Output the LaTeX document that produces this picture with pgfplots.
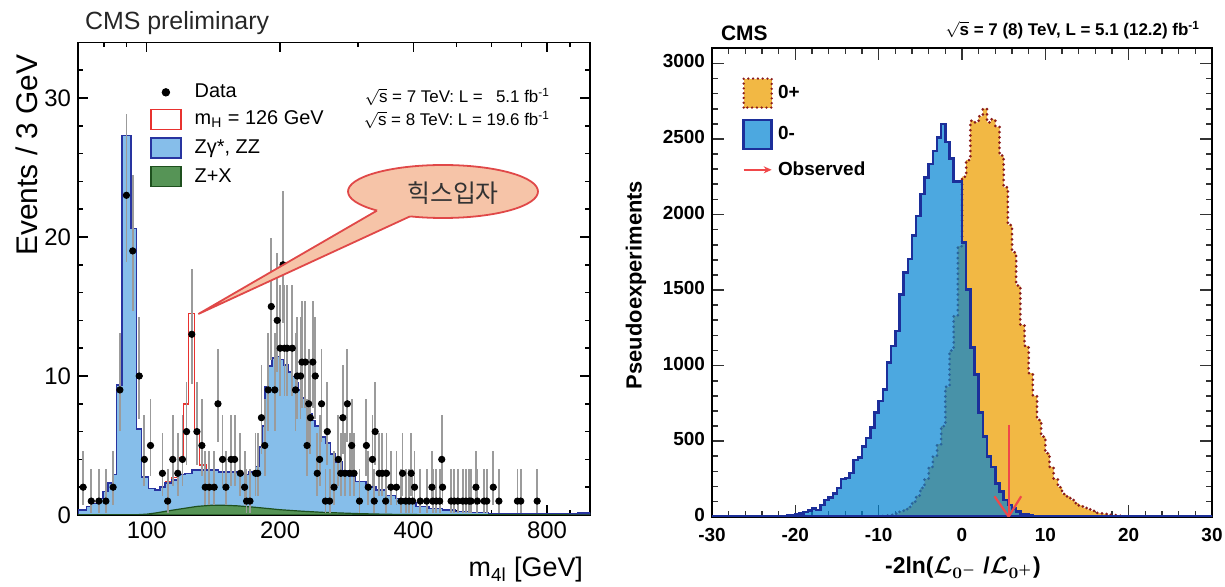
\documentclass[border=0pt]{standalone}
\usepackage{amsmath}
\usepackage{fontspec}
\usepackage{pgfplots}
\pgfplotsset{compat=1.18}
\usetikzlibrary{arrows.meta}
\setmainfont{Liberation Sans}
\newfontfamily\kr{Noto Sans CJK KR}

\definecolor{zzfill}{RGB}{134,190,234}
\definecolor{zzline}{RGB}{40,52,160}
\definecolor{zxfill}{RGB}{86,148,86}
\definecolor{zxline}{RGB}{30,80,30}
\definecolor{sigred}{RGB}{232,50,47}
\definecolor{errgrey}{RGB}{155,155,155}
\definecolor{bubF}{RGB}{246,196,168}
\definecolor{bubD}{RGB}{224,72,72}
\definecolor{oraM}{RGB}{242,184,68}
\definecolor{dredM}{RGB}{138,28,28}
\definecolor{blueM}{RGB}{0,131,211}
\definecolor{blueL}{RGB}{76,168,224}
\definecolor{navyM}{RGB}{28,47,154}
\definecolor{redA}{RGB}{240,72,74}

\begin{document}
\begin{tikzpicture}
\useasboundingbox (0,0) rectangle (612.5bp,293.5bp);

% ---------------- left: m4l spectrum ----------------
\begin{axis}[
    at={(39bp,36bp)}, anchor=south west, scale only axis,
    width=256bp, height=236.3bp,
    xmode=log, xmin=70, xmax=1000, ymin=0, ymax=34,
    xtick={100,200,400,800}, xticklabels={100,200,400,800},
    minor xtick={80,90,300,500,600,700,900},
    ytick={0,10,20,30}, minor ytick={2,4,6,8,12,14,16,18,22,24,26,28,32},
    tick align=inside, major tick length=5bp, minor tick length=2.5bp,
    tick style={black, line width=0.8pt},
    axis line style={line width=0.8pt},
    ticklabel style={font=\fontsize{12}{14}\selectfont},
    /pgf/number format/assume math mode=true,
    legend style={at={(0.14,0.915)}, anchor=north west, draw=none, fill=none,
        inner sep=0pt, row sep=3.5bp, font=\fontsize{10}{12}\selectfont,
        nodes={inner sep=0.5bp},
        /tikz/every odd column/.append style={column sep=6bp}},
    legend cell align=left,
]
\addlegendimage{legend image code/.code={\fill[black] (7.5bp,0bp) circle (1.9pt);}}
\addlegendentry{Data}
\addlegendimage{legend image code/.code={\draw[sigred, fill=white, line width=0.8pt] (0bp,-5bp) rectangle (15bp,5bp);}}
\addlegendentry{m\textsubscript{H} = 126 GeV}
\addlegendimage{legend image code/.code={\draw[zzline, fill=zzfill, line width=0.8pt] (0bp,-5bp) rectangle (15bp,5bp);}}
\addlegendentry{Zγ*, ZZ}
\addlegendimage{legend image code/.code={\draw[zxline, fill=zxfill, line width=0.8pt] (0bp,-5bp) rectangle (15bp,5bp);}}
\addlegendentry{Z+X}

% signal (stacked total), drawn first so background outline covers it
\addplot[const plot mark left, sigred, line width=0.9pt, forget plot] coordinates {
 (110,2.35) (113.9,2.7) (117.9,4.1) (121,8.0) (124.2,14.5) (128.2,5.9) (131.5,3.6) (136,3.25)
};
% Zgamma*, ZZ + Z+X
\addplot[const plot mark left, fill=zzfill, draw=zzline, line width=0.8pt, forget plot] coordinates {
 (70,0.36) (73.1,0.6) (75.1,0.84) (77.7,1.2) (79.8,1.7) (81.9,2.3) (84,2.9) (85.5,9.35)
 (88,27.3) (92.2,20.6) (94.9,6.2) (97.4,2.75) (100.9,1.9) (104.4,1.8) (107.2,2.0) (110,2.3)
 (113.9,2.5) (117.9,2.9) (122,3.0) (126.4,3.25) (135.5,3.25) (145.3,3.1) (164,2.9) (170,3.1)
 (176,3.5) (179,4.9) (182,6.4) (185,9.2) (188,10.7) (192,11.3) (195,11.4) (200,11.2)
 (204,10.8) (209,10.3) (213,9.95) (217,9.5) (220,9.0) (224,8.4) (228,7.9) (232,7.3)
 (236,6.8) (240,6.4) (247,5.6) (253,5.2) (260,4.4) (266,3.8) (276,3.2) (286,2.8)
 (296,2.4) (312,2.0) (329,1.8) (346,1.4) (364,1.2) (384,0.85) (405,0.6) (433,0.48)
 (465,0.36) (497,0.24) (532,0.17) (590,0.12) (694,0.07) (940,0.15) (1000,0.15)
} \closedcycle;
% Z+X
\addplot[fill=zxfill, draw=zxline, line width=0.6pt, forget plot] coordinates {
 (70,0.02) (95,0.02) (100,0.06) (105,0.15) (110,0.26) (115,0.36) (120,0.45) (130,0.62)
 (140,0.7) (150,0.7) (160,0.66) (175,0.56) (190,0.45) (200,0.38) (225,0.27) (250,0.19)
 (300,0.1) (350,0.05) (400,0.03) (500,0.015) (1000,0.01)
} \closedcycle;
% data
\addplot[only marks, mark=*, mark size=1.6pt, black, forget plot,
    error bars/.cd, y dir=both, y explicit, error mark=none,
    error bar style={draw=errgrey, line width=0.9pt}]
 table[x=m, y=n, y error plus=ep, y error minus=em] {
m n ep em
71.9 2 2.64 1.29
75 1 2.30 0.83
78 1 2.30 0.83
80.9 1 2.30 0.83
84 2 2.64 1.29
87 9 4.11 2.94
90 23 5.86 4.77
93 19 5.43 4.32
96.2 10 4.27 3.11
98.8 4 3.16 1.91
102 5 3.38 2.16
108.5 3 2.92 1.63
111.5 1 2.30 0.83
114.5 4 3.16 1.91
117.5 3 2.92 1.63
120.4 4 3.16 1.91
123 6 3.58 2.38
126.4 13 4.70 3.56
129.8 6 3.58 2.38
133.2 5 3.38 2.16
135.5 2 2.64 1.29
138.4 2 2.64 1.29
142 2 2.64 1.29
144.8 8 3.95 2.77
148.3 4 3.16 1.91
150.9 2 2.64 1.29
155 4 3.16 1.91
157.9 4 3.16 1.91
162.6 3 2.92 1.63
166.3 2 2.64 1.29
168 1 2.30 0.83
171 1 2.30 0.83
176 3 2.92 1.63
178 3 2.92 1.63
181.5 7 3.77 2.58
184.7 5 3.38 2.16
188 9 4.11 2.94
191 15 4.96 3.83
194.5 9 4.11 2.94
197 14 4.83 3.70
200 12 4.56 3.42
203 18 5.32 4.20
204.5 12 4.56 3.42
207.4 12 4.56 3.42
213 12 4.56 3.42
216.6 9 4.11 2.94
218.6 10 4.27 3.11
222.4 10 4.27 3.11
224 11 4.42 3.27
228 11 4.42 3.27
230 5 3.38 2.16
232 8 3.95 2.77
234 7 3.77 2.58
237 11 4.42 3.27
240 10 4.27 3.11
242.5 3 2.92 1.63
245.5 4 3.16 1.91
248 8 3.95 2.77
253 1 2.30 0.83
255.5 6 3.58 2.38
258.6 1 2.30 0.83
264.6 2 2.64 1.29
270.6 4 3.16 1.91
274 3 2.92 1.63
277 7 3.77 2.58
280 3 2.92 1.63
283.6 8 3.95 2.77
287 3 2.92 1.63
290 5 3.38 2.16
293.6 3 2.92 1.63
302 1 2.30 0.83
313 5 3.38 2.16
316 2 2.64 1.29
323 4 3.16 1.91
326 1 2.30 0.83
327.6 6 3.58 2.38
334.5 3 2.92 1.63
340 3 2.92 1.63
346 1 2.30 0.83
347.5 3 2.92 1.63
355.5 2 2.64 1.29
366 2 2.64 1.29
374.5 1 2.30 0.83
377.7 3 2.92 1.63
384 1 2.30 0.83
391 1 2.30 0.83
395 3 2.92 1.63
398 1 2.30 0.83
402 2 2.64 1.29
414 1 2.30 0.83
428 1 2.30 0.83
440 2 2.64 1.29
442 1 2.30 0.83
450 1 2.30 0.83
458 1 2.30 0.83
463 4 3.16 1.91
465 2 2.64 1.29
486 1 2.30 0.83
494 1 2.30 0.83
503 1 2.30 0.83
516 1 2.30 0.83
525 1 2.30 0.83
534 1 2.30 0.83
539 1 2.30 0.83
553 2 2.64 1.29
557 1 2.30 0.83
577 1 2.30 0.83
585 1 2.30 0.83
605 2 2.64 1.29
623 1 2.30 0.83
686 1 2.30 0.83
698 1 2.30 0.83
760 1 2.30 0.83
};
\end{axis}

% left panel texts
\node[anchor=west, font=\fontsize{12.5}{15}\selectfont, text=black!85] at (39bp,282bp) {CMS preliminary};
\node[rotate=90, font=\fontsize{15}{18}\selectfont] at (13.5bp,216bp) {Events / 3 GeV};
\node[anchor=east, font=\fontsize{13.5}{16}\selectfont] at (295bp,8.5bp) {m\textsubscript{4l} [GeV]};
\node[anchor=east, font=\fontsize{8.5}{10}\selectfont] at (278.5bp,245bp) {$\sqrt{\text{s}}$ = 7 TeV: L = \enspace5.1 fb\textsuperscript{-1}};
\node[anchor=east, font=\fontsize{8.5}{10}\selectfont] at (278.5bp,233.5bp) {$\sqrt{\text{s}}$ = 8 TeV: L = 19.6 fb\textsuperscript{-1}};

% speech bubble
\filldraw[fill=bubF, draw=bubD, line width=0.9pt] (221.5bp,197.75bp) ellipse [x radius=47.5bp, y radius=13.25bp];
\fill[bubF] (193bp,194bp) -- (188.5bp,188.2bp) -- (99.2bp,136.5bp) -- (205bp,185.3bp) -- (208bp,192bp) -- cycle;
\draw[bubD, line width=0.9pt] (188.5bp,188.2bp) -- (99.2bp,136.5bp) -- (205bp,185.3bp);
\node[font=\kr\fontsize{12.5}{14}\selectfont, text=black!80] at (226.5bp,197bp) {힉스입자};

% ---------------- right: pseudoexperiments ----------------
\begin{axis}[
    at={(356bp,35.15bp)}, anchor=south west, scale only axis,
    width=250bp, height=234.2bp,
    xmin=-30, xmax=30, ymin=0, ymax=3100,
    xtick={-30,-20,...,30}, minor x tick num=4,
    ytick={0,500,...,3000}, minor y tick num=4,
    scaled y ticks=false,
    tick align=inside, major tick length=6bp, minor tick length=3bp,
    tick style={black!80, line width=0.8pt},
    axis line style={line width=1.1pt},
    ticklabel style={font=\bfseries\fontsize{9.5}{11}\selectfont},
    xticklabel style={yshift=-2.5bp},
    yticklabel style={yshift=1bp},
    /pgf/number format/assume math mode=true,
    /pgf/number format/1000 sep={},
    legend style={at={(0.06,0.939)}, anchor=north west, draw=none, fill=none,
        inner sep=0pt, row sep=5bp, font=\bfseries\fontsize{9.5}{11}\selectfont,
        nodes={inner sep=0.5bp},
        /tikz/every odd column/.append style={column sep=2bp}},
    legend cell align=left,
]
\addlegendimage{legend image code/.code={\draw[fill=oraM, draw=dredM, line width=1.3bp, dash pattern=on 0pt off 2.4bp, line cap=round] (0bp,-7.25bp) rectangle (14bp,7.25bp);}}
\addlegendentry{0+}
\addlegendimage{legend image code/.code={\draw[fill=blueL, draw=navyM, line width=1.3bp] (0bp,-7.25bp) rectangle (14bp,7.25bp);}}
\addlegendentry{0-}
\addlegendimage{legend image code/.code={\draw[redA, line width=1.1pt, -{Stealth[length=4bp,width=3.5bp]}] (0bp,0bp) -- (14bp,0bp);}}
\addlegendentry{Observed}

% 0+
\addplot[const plot mark left, fill=oraM, draw=dredM, line width=1.5bp,
    dash pattern=on 0pt off 2.6bp, line cap=round, forget plot] coordinates {
 (-30,0) (-10,3) (-9.5,5) (-9,8) (-8.5,12) (-8,20) (-7.5,35) (-7,50) (-6.5,65) (-6,100)
 (-5.5,140) (-5,190) (-4.5,250) (-4,330) (-3.5,400) (-3,480) (-2.5,600) (-2,860)
 (-1.5,1100) (-1,1330) (-0.5,1790) (0,2250) (0.5,2360) (1,2620) (1.5,2610) (2,2650)
 (2.5,2700) (3,2610) (3.5,2630) (4,2580) (4.5,2390) (5,2180) (5.5,1930) (6,1750)
 (6.5,1530) (7,1270) (7.5,1130) (8,950) (8.5,800) (9,640) (9.5,530) (10,420)
 (10.5,330) (11,250) (11.5,195) (12,150) (12.5,135) (13,110) (13.5,90) (14,75)
 (14.5,58) (15,48) (15.5,38) (16,25) (16.5,22) (17,18) (17.5,12) (18,10) (18.5,7)
 (19,4) (19.5,2) (20,0) (30,0)
} \closedcycle;
% 0-
\addplot[const plot mark left, fill=blueM, fill opacity=0.7, draw=navyM, line width=1.3bp, forget plot] coordinates {
 (-30,3) (-21,6) (-20.5,10) (-20,15) (-19.5,20) (-19,30) (-18.5,42) (-18,55) (-17.5,45)
 (-17,77) (-16.5,110) (-16,126) (-15.5,155) (-15,190) (-14.5,250) (-14,255) (-13.5,290)
 (-13,376) (-12.5,390) (-12,465) (-11.5,520) (-11,590) (-10.5,690) (-10,765) (-9.5,840)
 (-9,1020) (-8.5,1130) (-8,1230) (-7.5,1470) (-7,1615) (-6.5,1705) (-6,1860) (-5.5,1990)
 (-5,2135) (-4.5,2245) (-4,2335) (-3.5,2420) (-3,2510) (-2.5,2600) (-2,2480) (-1.5,2370)
 (-1,2220) (-0.5,2220) (0,1815) (0.5,1505) (1,1120) (1.5,940) (2,690) (2.5,530)
 (3,400) (3.5,330) (4,220) (4.5,165) (5,110) (5.5,77) (6,55) (6.5,33) (7,18) (7.5,18)
 (8,6) (8.5,3) (30,3)
} \closedcycle;
% observed
\addplot[redA, line width=1.1pt, forget plot] coordinates {(5.6,610) (5.6,0)};
\addplot[redA, line width=1.1pt, forget plot] coordinates {(3.9,135) (5.6,0) (7.1,135)};
\end{axis}

% right panel texts
\node[anchor=west, font=\bfseries\fontsize{10.5}{12}\selectfont] at (357bp,277bp) {CMS};
\node[anchor=east, font=\bfseries\fontsize{8.5}{10}\selectfont] at (603.5bp,278.5bp) {$\sqrt{\text{s}}$ = 7 (8) TeV, L = 5.1 (12.2) fb\textsuperscript{-1}};
\node[font=\bfseries\fontsize{11.5}{13}\selectfont] at (481.5bp,9.5bp) {-2ln({\boldmath$\mathcal{L}_{0^{-}}$} /{\boldmath$\mathcal{L}_{0^{+}}$})};
\node[rotate=90, font=\bfseries\fontsize{11}{13}\selectfont] at (318bp,151bp) {Pseudoexperiments};
\end{tikzpicture}
\end{document}
